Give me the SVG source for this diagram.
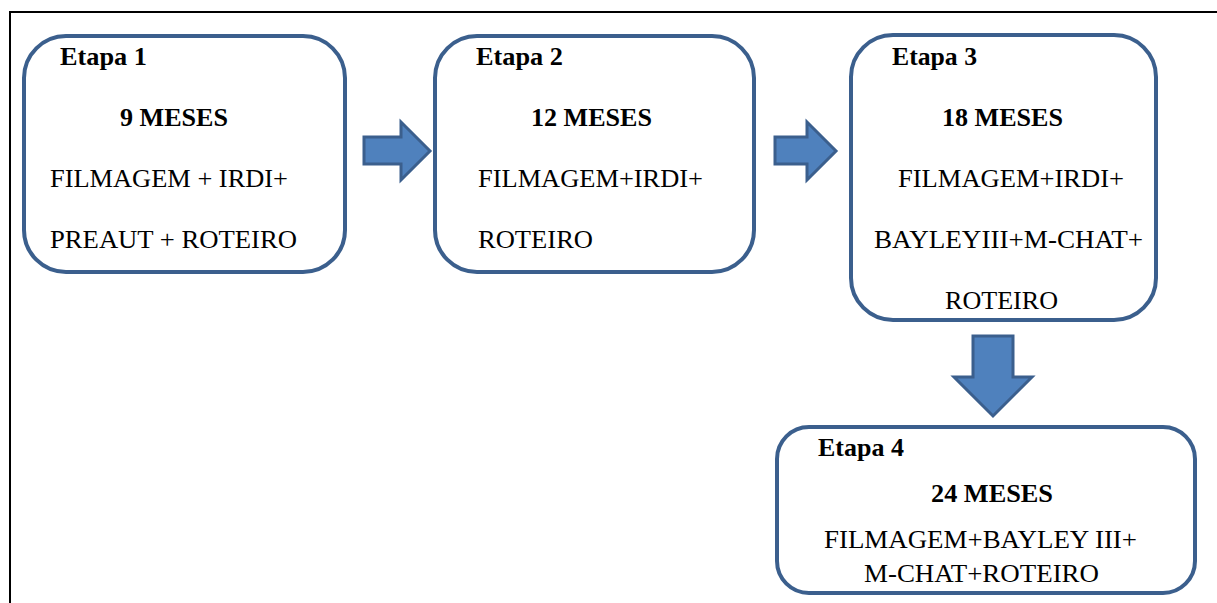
<svg xmlns="http://www.w3.org/2000/svg" width="1217" height="603" viewBox="0 0 1217 603">
<style>
.box{fill:#fff;stroke:#3B5F8D;stroke-width:4}
.arr{fill:#4F81BD;stroke:#3B5F8D;stroke-width:3;stroke-linejoin:miter}
text{font-family:"Liberation Serif","Times New Roman",serif;font-size:25px;fill:#000}
.b{font-weight:bold}
</style>
<rect width="1217" height="603" fill="#fff"/>
<g id="frame"><path d="M10 603 V12 H1217" fill="none" stroke="#000" stroke-width="2"/></g>
<g id="connectors">
<path class="arr" d="M364 137 H401 V122 L430 151 L401 180 V164 H364 Z"/>
<path class="arr" d="M775 137 H807 V122 L836 151 L807 180 V164 H775 Z"/>
<path class="arr" d="M973 336 H1013 V377 H1032 L993 416 L954 377 H973 Z"/>
</g>
<g id="etapa1">
<rect class="box" x="24" y="36" width="321" height="236" rx="42"/>
<text class="b" x="60" y="65" textLength="87" lengthAdjust="spacingAndGlyphs">Etapa 1</text>
<text class="b" x="120" y="126" textLength="108" lengthAdjust="spacingAndGlyphs">9 MESES</text>
<text x="50" y="187" textLength="238" lengthAdjust="spacingAndGlyphs">FILMAGEM + IRDI+</text>
<text x="50" y="248" textLength="247" lengthAdjust="spacingAndGlyphs">PREAUT + ROTEIRO</text>
</g>
<g id="etapa2">
<rect class="box" x="435" y="36" width="319" height="236" rx="42"/>
<text class="b" x="476" y="65" textLength="87" lengthAdjust="spacingAndGlyphs">Etapa 2</text>
<text class="b" x="531" y="126" textLength="121" lengthAdjust="spacingAndGlyphs">12 MESES</text>
<text x="478" y="187" textLength="225" lengthAdjust="spacingAndGlyphs">FILMAGEM+IRDI+</text>
<text x="478" y="248" textLength="115" lengthAdjust="spacingAndGlyphs">ROTEIRO</text>
</g>
<g id="etapa3">
<rect class="box" x="851" y="35" width="305" height="285" rx="42"/>
<text class="b" x="892" y="65" textLength="85" lengthAdjust="spacingAndGlyphs">Etapa 3</text>
<text class="b" x="942" y="126" textLength="121" lengthAdjust="spacingAndGlyphs">18 MESES</text>
<text x="898" y="187" textLength="226" lengthAdjust="spacingAndGlyphs">FILMAGEM+IRDI+</text>
<text x="874" y="248" textLength="269" lengthAdjust="spacingAndGlyphs">BAYLEYIII+M-CHAT+</text>
<text x="945" y="309" textLength="113" lengthAdjust="spacingAndGlyphs">ROTEIRO</text>
</g>
<g id="etapa4">
<rect class="box" x="777" y="427" width="418" height="166" rx="32"/>
<text class="b" x="818" y="456" textLength="86" lengthAdjust="spacingAndGlyphs">Etapa 4</text>
<text class="b" x="931" y="502" textLength="122" lengthAdjust="spacingAndGlyphs">24 MESES</text>
<text x="824" y="548" textLength="313" lengthAdjust="spacingAndGlyphs">FILMAGEM+BAYLEY III+</text>
<text x="864" y="582" textLength="235" lengthAdjust="spacingAndGlyphs">M-CHAT+ROTEIRO</text>
</g>
</svg>
